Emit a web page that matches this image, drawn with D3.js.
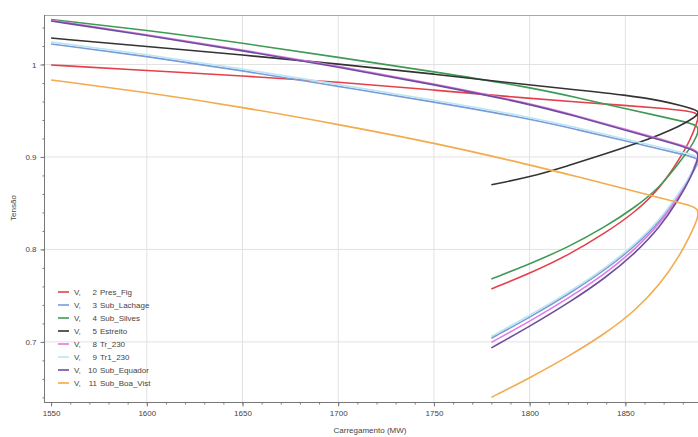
<!DOCTYPE html>
<html>
<head>
<meta charset="utf-8">
<script src="https://cdn.jsdelivr.net/npm/d3@7"></script>
<style>
  body { margin: 0; background: #fff; }
  text { font-family: "Liberation Sans", Arial, sans-serif; fill: #444; }
</style>
</head>
<body>
<div id="chart"></div>
<script>
// PV curves: upper branch (1550 -> nose) and lower branch (nose -> 1780)
var mwUpper = [1550, 1600, 1650, 1700, 1750, 1800, 1825, 1850, 1870, 1880, 1889];
var mwLower = [1887.5, 1884, 1878, 1868, 1855, 1840, 1820, 1800, 1780];

var busNums  = [2, 3, 4, 5, 8, 9, 10, 11];
var busNames = ["Pres_Fig", "Sub_Lachage", "Sub_Silves", "Estreito", "Tr_230", "Tr1_230", "Sub_Equador", "Sub_Boa_Vist"];
var busColors = ["#e5404a", "#7b9bd8", "#3f9a55", "#333333", "#e27ae2", "#b9e6f2", "#6b4f9e", "#f2ab4e"];

var upperV = [
  [0.9995, 0.9935, 0.9876, 0.9811, 0.9724, 0.9632, 0.9595, 0.9557, 0.9524, 0.9503, 0.9476],
  [1.0222, 1.0088, 0.9933, 0.9763, 0.9595, 0.9412, 0.9295, 0.9173, 0.9076, 0.9027, 0.8984],
  [1.0486, 1.0371, 1.0231, 1.0077, 0.9922, 0.9754, 0.9641, 0.9521, 0.9432, 0.9384, 0.9340],
  [1.0286, 1.0195, 1.0103, 1.0005, 0.9897, 0.9778, 0.9724, 0.9670, 0.9605, 0.9550, 0.9497],
  [1.0478, 1.0324, 1.0158, 0.9982, 0.9792, 0.9582, 0.9444, 0.9300, 0.9183, 0.9124, 0.9065],
  [1.0242, 1.0108, 0.9953, 0.9783, 0.9615, 0.9432, 0.9315, 0.9193, 0.9096, 0.9047, 0.9004],
  [1.0470, 1.0315, 1.0149, 0.9973, 0.9783, 0.9573, 0.9435, 0.9290, 0.9173, 0.9114, 0.9054],
  [0.9832, 0.9698, 0.9538, 0.9352, 0.9153, 0.8915, 0.8786, 0.8655, 0.8546, 0.8497, 0.8449]
];
var lowerV = [
  [0.9378, 0.9184, 0.8968, 0.8660, 0.8400, 0.8184, 0.7935, 0.7740, 0.7573],
  [0.8915, 0.8785, 0.8585, 0.8300, 0.8035, 0.7785, 0.7510, 0.7265, 0.7040],
  [0.9230, 0.9097, 0.8935, 0.8670, 0.8454, 0.8250, 0.8022, 0.7843, 0.7680],
  [0.9450, 0.9400, 0.9330, 0.9240, 0.9140, 0.9035, 0.8905, 0.8780, 0.8700],
  [0.8965, 0.8790, 0.8575, 0.8275, 0.8000, 0.7745, 0.7468, 0.7222, 0.6995],
  [0.8935, 0.8805, 0.8605, 0.8320, 0.8055, 0.7805, 0.7530, 0.7285, 0.7060],
  [0.8950, 0.8770, 0.8546, 0.8238, 0.7957, 0.7697, 0.7416, 0.7168, 0.6935],
  [0.8319, 0.8157, 0.7919, 0.7616, 0.7335, 0.7097, 0.6838, 0.6610, 0.6400]
];

var xTicks = [1550, 1600, 1650, 1700, 1750, 1800, 1850];
var yTicks = [0.7, 0.8, 0.9, 1];

var W = 698, H = 437;
var pL = 44, pT = 15, pR = 700, pB = 402;

var svg = d3.select("#chart").append("svg").attr("width", W).attr("height", H);

var x = d3.scaleLinear().domain([1546.3, 1889.0]).range([pL, pR]);
var y = d3.scaleLinear().domain([0.635, 1.0535]).range([pB, pT]);

// grid
svg.append("g").selectAll("line").data(xTicks.slice(1)).enter().append("line")
  .attr("x1", d => x(d)).attr("x2", d => x(d)).attr("y1", pT).attr("y2", pB)
  .style("stroke", "#e2e2e2").style("stroke-width", 1);
svg.append("g").selectAll("line").data(yTicks).enter().append("line")
  .attr("x1", pL).attr("x2", pR).attr("y1", d => y(d)).attr("y2", d => y(d))
  .style("stroke", "#e2e2e2").style("stroke-width", 1);

// frame
svg.append("rect").attr("x", pL + 0.5).attr("y", pT + 0.5)
  .attr("width", pR - pL).attr("height", pB - pT)
  .style("fill", "none").style("stroke", "#a8a8a8");

// curves
svg.append("clipPath").attr("id", "clip").append("rect")
  .attr("x", pL).attr("y", pT).attr("width", pR - pL).attr("height", pB - pT);

var line = d3.line().x(d => x(d[0])).y(d => y(d[1])).curve(d3.curveBasis);

var curves = busNames.map(function(n, i) {
  var pts = mwUpper.map((m, j) => [m, upperV[i][j]]);
  return pts.concat(mwLower.map((m, j) => [m, lowerV[i][j]]));
});

svg.append("g").attr("clip-path", "url(#clip)").selectAll("path").data(curves).enter().append("path")
  .attr("d", line)
  .style("fill", "none").style("stroke", (d, i) => busColors[i]).style("stroke-width", 1.6);

// axes
var xAxis = svg.append("g").attr("transform", "translate(0," + (pB + 0.5) + ")");
xAxis.call(d3.axisBottom(x).tickValues(d3.range(1550, 1890, 10)).tickSize(2).tickFormat(""));
xAxis.call(g => g.select(".domain").remove());
var xMaj = svg.append("g").attr("transform", "translate(0," + (pB + 0.5) + ")")
  .call(d3.axisBottom(x).tickValues(xTicks).tickSize(4).tickPadding(4).tickFormat(d3.format("d")));
xMaj.select(".domain").attr("d", "M" + pL + ",0H" + pR);

var yAxis = svg.append("g").attr("transform", "translate(" + (pL + 0.5) + ",0)");
yAxis.call(d3.axisLeft(y).tickValues(d3.range(0.64, 1.05, 0.02)).tickSize(2).tickFormat(""));
yAxis.call(g => g.select(".domain").remove());
var yMaj = svg.append("g").attr("transform", "translate(" + (pL + 0.5) + ",0)")
  .call(d3.axisLeft(y).tickValues(yTicks).tickSize(4).tickPadding(4).tickFormat(d3.format("")));
yMaj.select(".domain").attr("d", "M0," + pT + "V" + pB);

svg.selectAll(".tick line").style("stroke", "#777");
svg.selectAll(".domain").style("stroke", "#777");
svg.selectAll(".tick text").style("font-size", "8px").style("fill", "#444");

svg.append("text").attr("x", 370).attr("y", 433).attr("text-anchor", "middle")
  .style("font-size", "8px").text("Carregamento (MW)");
svg.append("text").attr("transform", "translate(16,208) rotate(-90)").attr("text-anchor", "middle")
  .style("font-size", "8px").text("Tensão");

// legend
var leg = svg.append("g").selectAll("g").data(busNames).enter().append("g")
  .attr("transform", (d, i) => "translate(0," + (292 + i * 13) + ")");
leg.append("line").attr("x1", 58).attr("x2", 69).attr("y1", 0).attr("y2", 0)
  .style("stroke", (d, i) => busColors[i]).style("stroke-width", 1.6);
leg.append("text").attr("x", 74).attr("y", 3).style("font-size", "8px").text("V,");
leg.append("text").attr("x", 97).attr("y", 3).attr("text-anchor", "end").style("font-size", "8px")
  .text((d, i) => busNums[i]);
leg.append("text").attr("x", 100).attr("y", 3).style("font-size", "8px").text(d => d);
</script>
</body>
</html>
